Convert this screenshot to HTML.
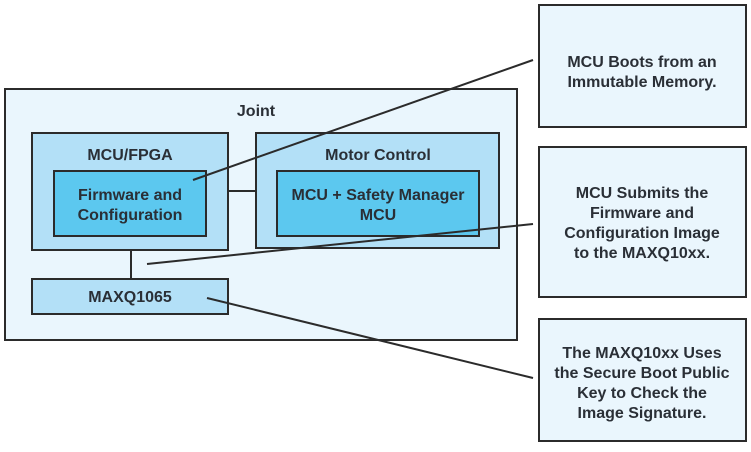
<!DOCTYPE html>
<html><head><meta charset="utf-8"><style>
body{margin:0;background:#fff;width:751px;height:447px;overflow:hidden;font-family:"Liberation Sans",sans-serif;}
</style></head><body>
<svg width="751" height="447" viewBox="0 0 751 447" xmlns="http://www.w3.org/2000/svg" font-family="Liberation Sans, sans-serif" font-weight="bold" fill="#2a2f36">
<g stroke="#2b2b2b" stroke-width="2">
<rect x="5" y="89" width="512" height="251" fill="#eaf6fd"/>
<rect x="32" y="133" width="196" height="117" fill="#b3e0f7"/>
<rect x="54" y="171" width="152" height="65" fill="#5cc8ef"/>
<rect x="256" y="133" width="243" height="115" fill="#b3e0f7"/>
<rect x="277" y="171" width="202" height="65" fill="#5cc8ef"/>
<rect x="32" y="279" width="196" height="35" fill="#b3e0f7"/>
<line x1="228" y1="191" x2="256" y2="191"/>
<line x1="131" y1="250" x2="131" y2="279"/>
<rect x="539" y="5" width="207" height="122" fill="#eaf6fd"/>
<rect x="539" y="147" width="207" height="150" fill="#eaf6fd"/>
<rect x="539" y="319" width="207" height="122" fill="#eaf6fd"/>
<line x1="193" y1="180" x2="533" y2="60"/>
<line x1="147" y1="264" x2="533" y2="224"/>
<line x1="207" y1="298" x2="533" y2="378"/>
</g>
<g font-size="16" text-anchor="middle" stroke="none">
<text x="256" y="116">Joint</text>
<text x="130" y="160">MCU/FPGA</text>
<text x="378" y="160">Motor Control</text>
<text x="130" y="200">Firmware and</text>
<text x="130" y="220">Configuration</text>
<text x="378" y="200">MCU + Safety Manager</text>
<text x="378" y="220">MCU</text>
<text x="130" y="302">MAXQ1065</text>
<text x="642" y="67">MCU Boots from an</text>
<text x="642" y="87">Immutable Memory.</text>
<text x="642" y="198">MCU Submits the</text>
<text x="642" y="218">Firmware and</text>
<text x="642" y="238">Configuration Image</text>
<text x="642" y="258">to the MAXQ10xx.</text>
<text x="642" y="358">The MAXQ10xx Uses</text>
<text x="642" y="378">the Secure Boot Public</text>
<text x="642" y="398">Key to Check the</text>
<text x="642" y="418">Image Signature.</text>
</g>
</svg>
</body></html>
